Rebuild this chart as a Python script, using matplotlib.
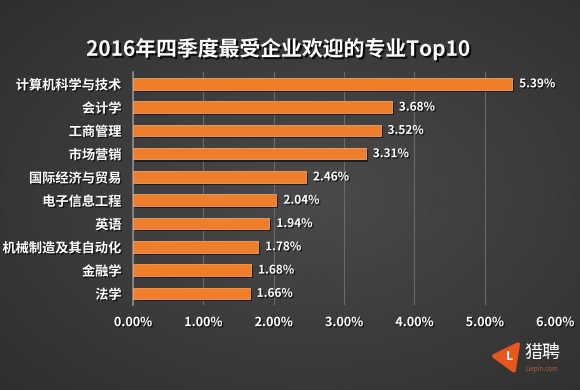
import numpy as np
import matplotlib
matplotlib.use("Agg")
import matplotlib.pyplot as plt
import matplotlib.patheffects as pe
from matplotlib.patches import Polygon

plt.rcParams['font.family'] = ['Noto Sans CJK SC', 'DejaVu Sans']

majors = ["计算机科学与技术", "会计学", "工商管理", "市场营销", "国际经济与贸易",
          "电子信息工程", "英语", "机械制造及其自动化", "金融学", "法学"]
shares = [5.39, 3.68, 3.52, 3.31, 2.46, 2.04, 1.94, 1.78, 1.68, 1.66]
xticks = [0, 1, 2, 3, 4, 5, 6]

fig = plt.figure(figsize=(5.8, 3.9), dpi=100)

# dark gradient background
bg = fig.add_axes([0, 0, 1, 1], zorder=-10)
yy, xx = np.mgrid[0:1:200j, 0:1:300j]
r = np.sqrt(((xx - 0.55) / 0.9) ** 2 + ((yy - 0.5) / 0.9) ** 2)
shade = np.clip(0.29 - 0.13 * r, 0.16, 0.29)
bg.imshow(shade, cmap="gray", vmin=0, vmax=1, aspect="auto", extent=[0, 1, 0, 1])
bg.axis("off")

ax = fig.add_axes([0.229, 0.218, 0.728, 0.597])
ax.patch.set_alpha(0)
y = np.arange(len(majors))
bars = ax.barh(y, shares, height=0.5, color="#F07D2A", edgecolor="#F5A060",
               linewidth=0.6, zorder=3)
for b in bars:
    b.set_path_effects([pe.SimplePatchShadow(offset=(1.5, -1.5), shadow_rgbFace="#1a1a1a", alpha=0.9),
                        pe.Normal()])
ax.set_ylim(len(majors) - 0.5, -0.5)
ax.set_xlim(0, 6)
ax.set_xticks(xticks)
ax.set_xticklabels(["%.2f%%" % v for v in xticks])
ax.set_yticks(y)
ax.set_yticklabels(majors)
ax.tick_params(length=0, colors="white", labelsize=9)
ax.tick_params(axis="y", labelsize=9.5, pad=8)
ax.tick_params(axis="x", pad=8)
for lab in ax.get_xticklabels() + ax.get_yticklabels():
    lab.set_fontweight("bold")
    lab.set_path_effects([pe.withSimplePatchShadow(offset=(1, -1), shadow_rgbFace="black", alpha=0.6)])
ax.grid(axis="x", color="#6a6a6a", linewidth=0.8, zorder=0)
for s in ["top", "right", "bottom"]:
    ax.spines[s].set_visible(False)
ax.spines["left"].set_color("#8a8a8a")
ax.spines["left"].set_linewidth(1.2)

for yi, v in zip(y, shares):
    ax.text(v + 0.1, yi, "%.2f%%" % v, va="center", ha="left", color="white",
            fontsize=8.5, fontweight="bold",
            path_effects=[pe.withSimplePatchShadow(offset=(1, -1), shadow_rgbFace="black", alpha=0.6)])

fig.text(0.48, 0.875, "2016年四季度最受企业欢迎的专业Top10", ha="center", va="center",
         color="white", fontsize=15, fontweight="bold",
         path_effects=[pe.withSimplePatchShadow(offset=(1.5, -1.5), shadow_rgbFace="black", alpha=0.8)])

# logo
logo = Polygon([[0.852, 0.087], [0.893, 0.117], [0.886, 0.050]], closed=True,
               facecolor="#E8561E", edgecolor="#E8561E", linewidth=3, joinstyle="round",
               transform=fig.transFigure)
fig.patches.append(logo)
fig.text(0.878, 0.085, "L", color="white", fontsize=9, fontweight="bold", style="italic",
         ha="center", va="center")
fig.text(0.935, 0.094, "猎聘", color="white", fontsize=13, ha="center", va="center")
fig.text(0.935, 0.054, "Liepin.com", color="#B0603A", fontsize=4.5, ha="center", va="center")

fig.savefig("out.png", dpi=100)
